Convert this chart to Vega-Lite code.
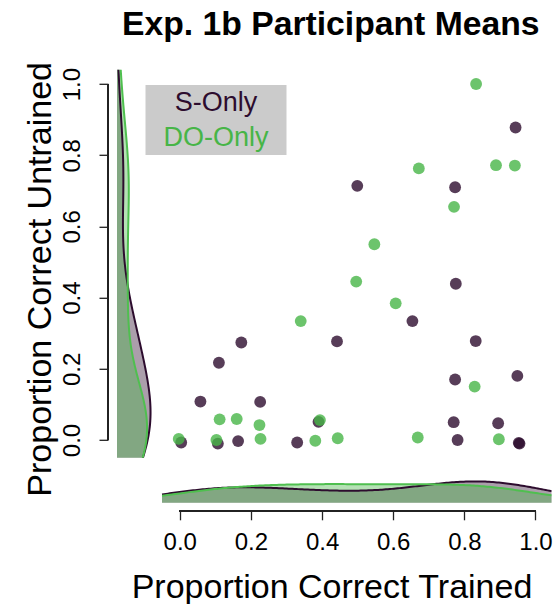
{
  "$schema": "https://vega.github.io/schema/vega-lite/v6.json",
  "autosize": {"type": "none"},
  "padding": {"left": 117, "top": 69.8, "right": 440, "bottom": 534.2},
  "background": "white",
  "config": {
    "view": {"stroke": null},
    "font": "Liberation Sans",
    "axis": {"grid": false}
  },
  "title": {
    "text": "Exp. 1b Participant Means",
    "fontSize": 33.7,
    "fontWeight": "bold",
    "font": "Liberation Sans",
    "color": "black",
    "anchor": "start",
    "frame": "group",
    "baseline": "alphabetic",
    "offset": -7.5,
    "dx": 5
  },
  "datasets": {
    "pts": [
      {"group": "S-Only", "trained": 0.944, "untrained": 0.878},
      {"group": "S-Only", "trained": 0.499, "untrained": 0.714},
      {"group": "S-Only", "trained": 0.774, "untrained": 0.710},
      {"group": "S-Only", "trained": 0.776, "untrained": 0.439},
      {"group": "S-Only", "trained": 0.654, "untrained": 0.334},
      {"group": "S-Only", "trained": 0.173, "untrained": 0.274},
      {"group": "S-Only", "trained": 0.442, "untrained": 0.277},
      {"group": "S-Only", "trained": 0.832, "untrained": 0.278},
      {"group": "S-Only", "trained": 0.110, "untrained": 0.217},
      {"group": "S-Only", "trained": 0.774, "untrained": 0.170},
      {"group": "S-Only", "trained": 0.949, "untrained": 0.180},
      {"group": "S-Only", "trained": 0.058, "untrained": 0.108},
      {"group": "S-Only", "trained": 0.226, "untrained": 0.107},
      {"group": "S-Only", "trained": 0.390, "untrained": 0.051},
      {"group": "S-Only", "trained": 0.770, "untrained": 0.050},
      {"group": "S-Only", "trained": 0.895, "untrained": 0.047},
      {"group": "S-Only", "trained": 0.004, "untrained": -0.007},
      {"group": "S-Only", "trained": 0.107, "untrained": -0.010},
      {"group": "S-Only", "trained": 0.164, "untrained": -0.003},
      {"group": "S-Only", "trained": 0.330, "untrained": -0.007},
      {"group": "S-Only", "trained": 0.781, "untrained": 0.000},
      {"group": "S-Only", "trained": 0.955, "untrained": -0.010},
      {"group": "S-Only", "trained": 0.953, "untrained": -0.008},
      {"group": "DO-Only", "trained": 0.833, "untrained": 1.000},
      {"group": "DO-Only", "trained": 0.889, "untrained": 0.772},
      {"group": "DO-Only", "trained": 0.942, "untrained": 0.771},
      {"group": "DO-Only", "trained": 0.672, "untrained": 0.763},
      {"group": "DO-Only", "trained": 0.771, "untrained": 0.655},
      {"group": "DO-Only", "trained": 0.547, "untrained": 0.550},
      {"group": "DO-Only", "trained": 0.496, "untrained": 0.445},
      {"group": "DO-Only", "trained": 0.607, "untrained": 0.384},
      {"group": "DO-Only", "trained": 0.340, "untrained": 0.334},
      {"group": "DO-Only", "trained": 0.829, "untrained": 0.150},
      {"group": "DO-Only", "trained": 0.112, "untrained": 0.058},
      {"group": "DO-Only", "trained": 0.160, "untrained": 0.059},
      {"group": "DO-Only", "trained": 0.224, "untrained": 0.042},
      {"group": "DO-Only", "trained": 0.394, "untrained": 0.056},
      {"group": "DO-Only", "trained": -0.003, "untrained": 0.003},
      {"group": "DO-Only", "trained": 0.103, "untrained": 0.000},
      {"group": "DO-Only", "trained": 0.227, "untrained": 0.003},
      {"group": "DO-Only", "trained": 0.381, "untrained": -0.002},
      {"group": "DO-Only", "trained": 0.444, "untrained": 0.005},
      {"group": "DO-Only", "trained": 0.669, "untrained": 0.007},
      {"group": "DO-Only", "trained": 0.897, "untrained": 0.002}
    ]
  },
  "spacing": 0,
  "bounds": "flush",
  "hconcat": [
    {
      "width": 44.5,
      "height": 388,
      "data": {"name": "pts"},
      "layer": [
        {
          "transform": [
            {"filter": "datum.group === 'S-Only'"},
            {"density": "untrained", "bandwidth": 0.14, "extent": [-0.05, 1.04], "steps": 200, "as": ["value", "density"]}
          ],
          "mark": {"type": "area", "orient": "horizontal", "color": "#2d0c2e", "opacity": 0.4},
          "encoding": {
            "y": {
              "field": "value", "type": "quantitative",
              "scale": {"domain": [-0.05, 1.04], "nice": false, "zero": false},
              "axis": {
                "title": "Proportion Correct Untrained",
                "values": [0, 0.2, 0.4, 0.6, 0.8, 1],
                "format": ".1f",
                "offset": 9,
                "domain": false,
                "tickSize": 9,
                "tickColor": "#222",
                "tickWidth": 1.3,
                "labelAngle": -90,
                "labelAlign": "center",
                "labelBaseline": "alphabetic",
                "labelPadding": 20,
                "labelFontSize": 24,
                "labelColor": "black",
                "labelFont": "Liberation Sans",
                "titleFont": "Liberation Sans",
                "titleFontSize": 34,
                "titleFontWeight": "normal",
                "titleColor": "black",
                "titlePadding": 3,
                "titleY": 209
              }
            },
            "x": {"field": "density", "type": "quantitative", "scale": {"domain": [0, 2.34], "nice": false, "zero": true}, "axis": null}
          }
        },
        {
          "transform": [
            {"filter": "datum.group === 'DO-Only'"},
            {"density": "untrained", "bandwidth": 0.14, "extent": [-0.05, 1.04], "steps": 200, "as": ["value", "density"]}
          ],
          "mark": {"type": "area", "orient": "horizontal", "color": "#47b547", "opacity": 0.4},
          "encoding": {
            "y": {"field": "value", "type": "quantitative"},
            "x": {"field": "density", "type": "quantitative"}
          }
        },
        {
          "transform": [
            {"filter": "datum.group === 'S-Only'"},
            {"density": "untrained", "bandwidth": 0.14, "extent": [-0.05, 1.04], "steps": 200, "as": ["value", "density"]}
          ],
          "mark": {"type": "line", "color": "#2d0c2e", "strokeWidth": 2},
          "encoding": {
            "y": {"field": "value", "type": "quantitative"},
            "x": {"field": "density", "type": "quantitative"},
            "order": {"field": "value", "type": "quantitative"}
          }
        },
        {
          "transform": [
            {"filter": "datum.group === 'DO-Only'"},
            {"density": "untrained", "bandwidth": 0.14, "extent": [-0.05, 1.04], "steps": 200, "as": ["value", "density"]}
          ],
          "mark": {"type": "line", "color": "#4fbf4f", "strokeWidth": 2},
          "encoding": {
            "y": {"field": "value", "type": "quantitative"},
            "x": {"field": "density", "type": "quantitative"},
            "order": {"field": "value", "type": "quantitative"}
          }
        },
        {
          "mark": {"type": "rule", "color": "#222", "strokeWidth": 1.3},
          "encoding": {
            "y": {"datum": 0, "type": "quantitative"},
            "y2": {"datum": 1},
            "x": {"datum": -0.473, "type": "quantitative"}
          }
        }
      ]
    },
    {
      "spacing": 0,
      "bounds": "flush",
      "vconcat": [
        {
          "width": 389.5,
          "height": 388,
          "data": {"name": "pts"},
          "mark": {"type": "circle", "size": 140, "opacity": 0.8},
          "encoding": {
            "x": {"field": "trained", "type": "quantitative", "scale": {"domain": [-0.05, 1.045], "nice": false, "zero": false}, "axis": null},
            "y": {"field": "untrained", "type": "quantitative", "scale": {"domain": [-0.05, 1.04], "nice": false, "zero": false}, "axis": null},
            "color": {
              "field": "group", "type": "nominal",
              "scale": {"domain": ["S-Only", "DO-Only"], "range": ["#2d0c2e", "#47b547"]},
              "legend": {
                "orient": "none",
                "legendX": 28.5,
                "legendY": 15.2,
                "title": "x",
                "titleOrient": "right",
                "titleOpacity": 0,
                "titleFontSize": 10,
                "titlePadding": 8,
                "fillColor": "#cbcbcb",
                "padding": 4,
                "symbolType": "circle",
                "symbolSize": 169,
                "symbolOpacity": 0,
                "symbolStrokeWidth": 0,
                "labelFont": "Liberation Sans",
                "labelFontSize": 27,
                "labelAlign": "center",
                "labelOffset": 39.5,
                "rowPadding": 7.5,
                "encode": {"labels": {"update": {"fill": {"scale": "color", "field": "value"}}}}
              }
            }
          }
        },
        {
          "width": 389.5,
          "height": 45,
          "data": {"name": "pts"},
          "layer": [
            {
              "transform": [
                {"filter": "datum.group === 'S-Only'"},
                {"density": "trained", "bandwidth": 0.16, "extent": [-0.05, 1.045], "steps": 200, "as": ["value", "density"]}
              ],
              "mark": {"type": "area", "color": "#2d0c2e", "opacity": 0.4},
              "encoding": {
                "x": {
                  "field": "value", "type": "quantitative",
                  "scale": {"domain": [-0.05, 1.045], "nice": false, "zero": false},
                  "axis": {
                    "title": "Proportion Correct Trained",
                    "values": [0, 0.2, 0.4, 0.6, 0.8, 1],
                    "format": ".1f",
                    "offset": 8,
                    "domain": false,
                    "tickSize": 9,
                    "tickColor": "#222",
                    "tickWidth": 1.3,
                    "labelPadding": 11,
                    "labelFontSize": 24,
                    "labelColor": "black",
                    "labelFont": "Liberation Sans",
                    "titleFont": "Liberation Sans",
                    "titleFontSize": 34,
                    "titleFontWeight": "normal",
                    "titleColor": "black",
                    "titlePadding": 16,
                    "titleX": 169.5
                  }
                },
                "y": {"field": "density", "type": "quantitative", "scale": {"domain": [0, 2.37], "nice": false, "zero": true}, "axis": null}
              }
            },
            {
              "transform": [
                {"filter": "datum.group === 'DO-Only'"},
                {"density": "trained", "bandwidth": 0.16, "extent": [-0.05, 1.045], "steps": 200, "as": ["value", "density"]}
              ],
              "mark": {"type": "area", "color": "#47b547", "opacity": 0.4},
              "encoding": {
                "x": {"field": "value", "type": "quantitative"},
                "y": {"field": "density", "type": "quantitative"}
              }
            },
            {
              "transform": [
                {"filter": "datum.group === 'S-Only'"},
                {"density": "trained", "bandwidth": 0.16, "extent": [-0.05, 1.045], "steps": 200, "as": ["value", "density"]}
              ],
              "mark": {"type": "line", "color": "#2d0c2e", "strokeWidth": 2},
              "encoding": {
                "x": {"field": "value", "type": "quantitative"},
                "y": {"field": "density", "type": "quantitative"}
              }
            },
            {
              "transform": [
                {"filter": "datum.group === 'DO-Only'"},
                {"density": "trained", "bandwidth": 0.16, "extent": [-0.05, 1.045], "steps": 200, "as": ["value", "density"]}
              ],
              "mark": {"type": "line", "color": "#4fbf4f", "strokeWidth": 2},
              "encoding": {
                "x": {"field": "value", "type": "quantitative"},
                "y": {"field": "density", "type": "quantitative"}
              }
            },
            {
              "mark": {"type": "rule", "color": "#222", "strokeWidth": 1.3},
              "encoding": {
                "x": {"datum": 0, "type": "quantitative"},
                "x2": {"datum": 1},
                "y": {"datum": -0.421, "type": "quantitative"}
              }
            }
          ]
        }
      ]
    }
  ]
}
